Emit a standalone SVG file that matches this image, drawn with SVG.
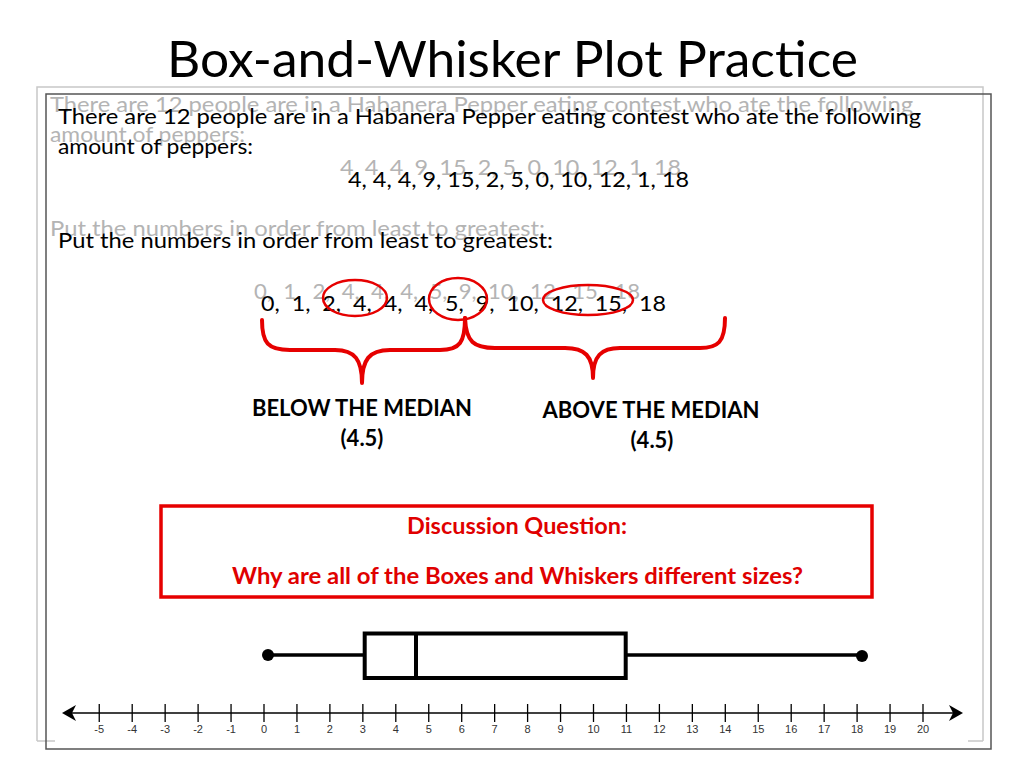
<svg xmlns="http://www.w3.org/2000/svg" width="1024" height="768" viewBox="0 0 1024 768">
<style>
.t{font-family:Lato,"Open Sans","Liberation Sans",sans-serif;font-size:22px;fill:#000}
.g{font-family:Lato,"Open Sans","Liberation Sans",sans-serif;font-size:22px;fill:#b4b4b4}
.b{font-family:Lato,"Open Sans","Liberation Sans",sans-serif;font-size:22px;font-weight:bold;fill:#000}
.r{font-family:Lato,"Open Sans","Liberation Sans",sans-serif;font-size:22px;font-weight:bold;fill:#e00000}
.red{fill:none;stroke:#e60000;stroke-width:2.5}
.brace{fill:none;stroke:#e60000;stroke-width:4;stroke-linecap:round;stroke-linejoin:round}
.tick{stroke:#000;stroke-width:1.3}
.lab{font-family:"Liberation Sans",Arial,sans-serif;font-size:11px;fill:#333;text-anchor:middle}
</style>
<rect width="1024" height="768" fill="#fff"/>
<g id="frame">
<path d="M37,741 V87 H983 V741" fill="none" stroke="#c8c8c8" stroke-width="1.5"/>
<path d="M37,741 H55 M968,741 H983" fill="none" stroke="#c8c8c8" stroke-width="1.5"/>
<rect x="46" y="94" width="945" height="655" fill="none" stroke="#555" stroke-width="1.5"/>
</g>
<g id="title">
<text x="167" y="77" textLength="691" lengthAdjust="spacingAndGlyphs" style="font-family:Lato,'Open Sans','Liberation Sans',sans-serif;font-size:51px;fill:#000">Box-and-Whisker Plot Practice</text>
</g>
<g id="problem-ghost">
<text class="g" x="50" y="112" textLength="863" lengthAdjust="spacingAndGlyphs">There are 12 people are in a Habanera Pepper eating contest who ate the following</text>
<text class="g" x="50" y="142" textLength="195" lengthAdjust="spacingAndGlyphs">amount of peppers:</text>
<text class="g" x="340" y="175" textLength="341" lengthAdjust="spacingAndGlyphs">4, 4, 4, 9, 15, 2, 5, 0, 10, 12, 1, 18</text>
<text class="g" x="50" y="236" textLength="495" lengthAdjust="spacingAndGlyphs">Put the numbers in order from least to greatest:</text>
<text class="g" x="254" y="299" textLength="386" lengthAdjust="spacingAndGlyphs" xml:space="preserve">0,  1,  2,  4,  4,  4,  5,  9,  10,  12,  15,  18</text>
</g>
<g id="problem">
<text class="t" x="58" y="124" textLength="863" lengthAdjust="spacingAndGlyphs">There are 12 people are in a Habanera Pepper eating contest who ate the following</text>
<text class="t" x="58" y="154" textLength="195" lengthAdjust="spacingAndGlyphs">amount of peppers:</text>
<text class="t" x="348" y="187" textLength="341" lengthAdjust="spacingAndGlyphs">4, 4, 4, 9, 15, 2, 5, 0, 10, 12, 1, 18</text>
<text class="t" x="58" y="248" textLength="495" lengthAdjust="spacingAndGlyphs">Put the numbers in order from least to greatest:</text>
</g>
<g id="ordered">
<text class="t" x="261" y="311" textLength="405" lengthAdjust="spacingAndGlyphs" xml:space="preserve">0,  1,  2,  4,  4,  4,  5,  9,  10,  12,  15,  18</text>
</g>
<g id="quartile-marks">
<ellipse class="red" cx="355" cy="298" rx="32" ry="18"/>
<ellipse class="red" cx="458" cy="299" rx="29" ry="21"/>
<ellipse class="red" cx="588" cy="300" rx="45" ry="15"/>
</g>
<g id="connectors">
<path class="brace" d="M262,320 C262,343 268,350 290,350 L335,350 C355,350 362,360 362,383 C362,360 369,350 390,350 L440,350 C460,350 465,342 465,318"/>
<path class="brace" d="M465,318 C466,342 474,348 495,348 L565,348 C585,348 593,356 593,378 C593,356 601,348 620,348 L700,348 C718,348 725,342 725,318"/>
</g>
<g id="below-label">
<text class="b" x="362" y="416" text-anchor="middle" textLength="220" lengthAdjust="spacingAndGlyphs">BELOW THE MEDIAN</text>
<text class="b" x="362" y="446" text-anchor="middle">(4.5)</text>
</g>
<g id="above-label">
<text class="b" x="651" y="418" text-anchor="middle" textLength="217" lengthAdjust="spacingAndGlyphs">ABOVE THE MEDIAN</text>
<text class="b" x="652" y="448" text-anchor="middle">(4.5)</text>
</g>
<g id="discussion">
<rect x="161" y="506" width="711" height="91" fill="#fff" stroke="#e60000" stroke-width="3.5"/>
<text class="r" x="517" y="534" text-anchor="middle" textLength="220" lengthAdjust="spacingAndGlyphs">Discussion Question:</text>
<text class="r" x="517.5" y="584" text-anchor="middle" textLength="571" lengthAdjust="spacingAndGlyphs">Why are all of the Boxes and Whiskers different sizes?</text>
</g>
<g id="boxplot">
<line x1="268" y1="655" x2="365" y2="655" stroke="#000" stroke-width="3.5"/>
<line x1="626" y1="655" x2="862" y2="655" stroke="#000" stroke-width="3.5"/>
<circle cx="268" cy="655" r="6" fill="#000"/>
<circle cx="862" cy="656" r="6" fill="#000"/>
<rect x="364.7" y="633.5" width="261" height="44.5" fill="#fff" stroke="#000" stroke-width="4"/>
<line x1="416" y1="633.5" x2="416" y2="678" stroke="#000" stroke-width="4"/>
</g>
<g id="number-line">
<line x1="64" y1="713" x2="961" y2="713" stroke="#000" stroke-width="1.5"/>
<path d="M62,713 L76,705 L72,713 L76,721 Z" fill="#000"/>
<path d="M963,713 L949,705 L953,713 L949,721 Z" fill="#000"/>
<g class="tick">
<line x1="99.25" y1="704" x2="99.25" y2="722"/>
<line x1="132.2" y1="704" x2="132.2" y2="722"/>
<line x1="165.15" y1="704" x2="165.15" y2="722"/>
<line x1="198.1" y1="704" x2="198.1" y2="722"/>
<line x1="231.05" y1="704" x2="231.05" y2="722"/>
<line x1="264" y1="704" x2="264" y2="722"/>
<line x1="296.95" y1="704" x2="296.95" y2="722"/>
<line x1="329.9" y1="704" x2="329.9" y2="722"/>
<line x1="362.85" y1="704" x2="362.85" y2="722"/>
<line x1="395.8" y1="704" x2="395.8" y2="722"/>
<line x1="428.75" y1="704" x2="428.75" y2="722"/>
<line x1="461.7" y1="704" x2="461.7" y2="722"/>
<line x1="494.65" y1="704" x2="494.65" y2="722"/>
<line x1="527.6" y1="704" x2="527.6" y2="722"/>
<line x1="560.55" y1="704" x2="560.55" y2="722"/>
<line x1="593.5" y1="704" x2="593.5" y2="722"/>
<line x1="626.45" y1="704" x2="626.45" y2="722"/>
<line x1="659.4" y1="704" x2="659.4" y2="722"/>
<line x1="692.35" y1="704" x2="692.35" y2="722"/>
<line x1="725.3" y1="704" x2="725.3" y2="722"/>
<line x1="758.25" y1="704" x2="758.25" y2="722"/>
<line x1="791.2" y1="704" x2="791.2" y2="722"/>
<line x1="824.15" y1="704" x2="824.15" y2="722"/>
<line x1="857.1" y1="704" x2="857.1" y2="722"/>
<line x1="890.05" y1="704" x2="890.05" y2="722"/>
<line x1="923" y1="704" x2="923" y2="722"/>
</g>
<text class="lab" x="99.25" y="733">-5</text>
<text class="lab" x="132.2" y="733">-4</text>
<text class="lab" x="165.15" y="733">-3</text>
<text class="lab" x="198.1" y="733">-2</text>
<text class="lab" x="231.05" y="733">-1</text>
<text class="lab" x="264" y="733">0</text>
<text class="lab" x="296.95" y="733">1</text>
<text class="lab" x="329.9" y="733">2</text>
<text class="lab" x="362.85" y="733">3</text>
<text class="lab" x="395.8" y="733">4</text>
<text class="lab" x="428.75" y="733">5</text>
<text class="lab" x="461.7" y="733">6</text>
<text class="lab" x="494.65" y="733">7</text>
<text class="lab" x="527.6" y="733">8</text>
<text class="lab" x="560.55" y="733">9</text>
<text class="lab" x="593.5" y="733">10</text>
<text class="lab" x="626.45" y="733">11</text>
<text class="lab" x="659.4" y="733">12</text>
<text class="lab" x="692.35" y="733">13</text>
<text class="lab" x="725.3" y="733">14</text>
<text class="lab" x="758.25" y="733">15</text>
<text class="lab" x="791.2" y="733">16</text>
<text class="lab" x="824.15" y="733">17</text>
<text class="lab" x="857.1" y="733">18</text>
<text class="lab" x="890.05" y="733">19</text>
<text class="lab" x="923" y="733">20</text>
</g>
</svg>
